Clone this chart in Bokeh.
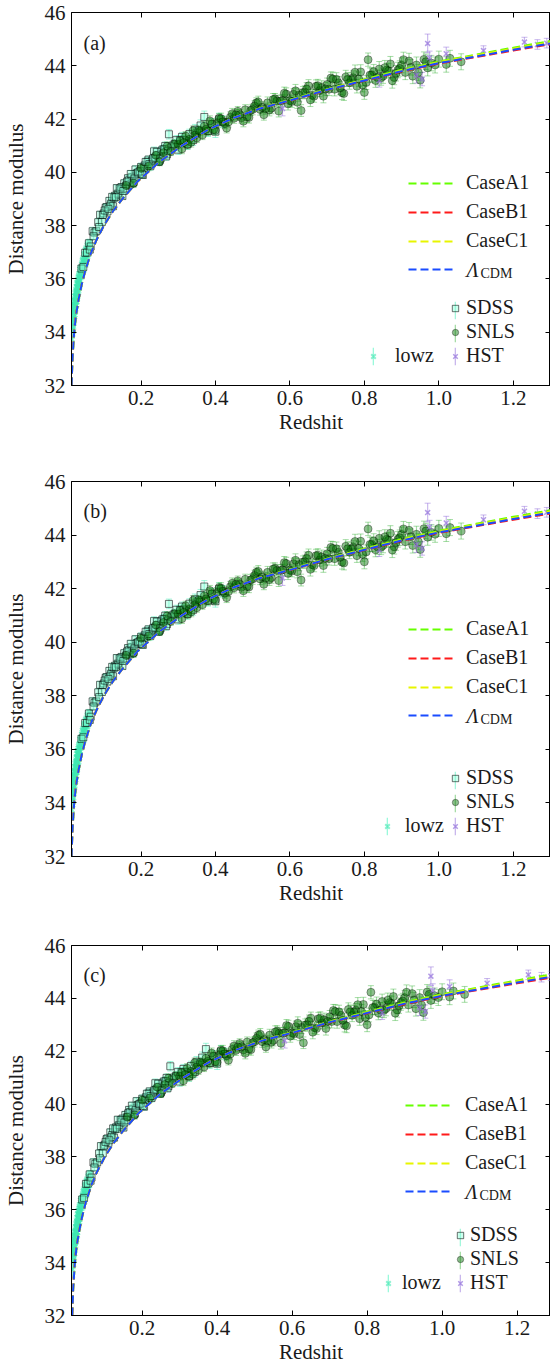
from bokeh.plotting import figure
from bokeh.layouts import column
from bokeh.models import (ColumnDataSource, Whisker, TeeHead, Legend, LegendItem,
                          FixedTicker, PrintfTickFormatter, LinearAxis, Label, Range1d)
from bokeh.embed import file_html
from bokeh.resources import INLINE

FONT = "'Liberation Serif', serif"
FS = "20px"
FS_AX = "21px"
TXT = "#1a1a1a"

# ---------------- data ----------------
x_ticks = [0.2, 0.4, 0.6, 0.8, 1.0, 1.2]
y_ticks = [32, 34, 36, 38, 40, 42, 44, 46]

z_model = [0.0135, 0.016, 0.02, 0.025, 0.032, 0.04, 0.05, 0.065, 0.08, 0.1, 0.125, 0.15,
           0.19, 0.25, 0.31, 0.38, 0.45, 0.52, 0.6, 0.7, 0.8, 0.9, 1.0, 1.1, 1.2, 1.3]
mu_lcdm = [32.0, 33.0, 33.9, 34.6, 35.2, 35.75, 36.3, 36.95, 37.45, 38.0, 38.55, 39.0,
           39.65, 40.4, 41.0, 41.6, 42.05, 42.4, 42.7, 43.1, 43.45, 43.8, 44.1, 44.35, 44.6, 44.84]
mu_case_a1 = [32.0, 33.0, 33.9, 34.6, 35.2, 35.75, 36.3, 36.95, 37.45, 38.0, 38.55, 39.0,
              39.65, 40.4, 41.0, 41.6, 42.05, 42.41, 42.72, 43.12, 43.49, 43.85, 44.16, 44.42, 44.68, 44.93]
mu_case_b1 = [32.0, 33.1, 34.0, 34.65, 35.2, 35.75, 36.3, 36.95, 37.45, 38.0, 38.55, 39.0,
              39.65, 40.4, 41.0, 41.6, 42.05, 42.4, 42.69, 43.09, 43.44, 43.78, 44.08, 44.33, 44.57, 44.81]
mu_case_c1 = [32.0, 33.0, 33.9, 34.6, 35.2, 35.75, 36.3, 36.95, 37.45, 38.0, 38.55, 39.0,
              39.65, 40.4, 41.0, 41.6, 42.05, 42.41, 42.71, 43.11, 43.47, 43.82, 44.13, 44.39, 44.64, 44.88]

z_lowz = [0.0135, 0.014, 0.015, 0.0155, 0.016, 0.017, 0.018, 0.019, 0.020, 0.021, 0.022, 0.023,
          0.024, 0.025, 0.026, 0.027, 0.028, 0.029, 0.030, 0.031, 0.032, 0.033, 0.034, 0.035,
          0.036, 0.038, 0.039, 0.040, 0.042, 0.043, 0.045, 0.047, 0.049, 0.050, 0.052, 0.054,
          0.056, 0.058, 0.060, 0.062,
          0.0145, 0.0165, 0.0175, 0.0185, 0.0195, 0.0205, 0.0215, 0.0225, 0.0235, 0.0245,
          0.0255, 0.0265, 0.0275, 0.0285, 0.0295, 0.0305, 0.0315, 0.0325, 0.0335, 0.0345,
          0.037, 0.041, 0.044, 0.046, 0.048, 0.051, 0.053, 0.055, 0.057, 0.059]
mu_lowz = [33.75, 34.20, 34.05, 34.45, 34.30, 34.55, 34.50, 34.85, 34.75, 35.00, 34.95, 35.20,
           35.15, 35.35, 35.30, 35.55, 35.45, 35.70, 35.65, 35.85, 35.80, 35.95, 36.05, 35.95,
           36.20, 36.15, 36.35, 36.30, 36.55, 36.45, 36.65, 36.60, 36.85, 36.75, 36.95, 37.05,
           36.95, 37.20, 37.15, 37.35,
           34.35, 34.10, 34.75, 34.35, 35.05, 34.60, 35.15, 34.80, 35.35, 35.00,
           35.50, 35.15, 35.70, 35.35, 35.85, 35.50, 35.95, 35.65, 36.10, 35.80,
           36.35, 36.15, 36.70, 36.40, 36.90, 36.60, 37.10, 36.85, 37.25, 37.00]
err_lowz = [0.30, 0.25, 0.28, 0.22, 0.26, 0.20, 0.24, 0.18, 0.22, 0.20, 0.17, 0.21, 0.19, 0.16,
            0.20, 0.18, 0.15, 0.19, 0.17, 0.16, 0.18, 0.15, 0.17, 0.16, 0.15, 0.18, 0.14, 0.16,
            0.15, 0.17, 0.14, 0.16, 0.15, 0.14, 0.16, 0.15, 0.14, 0.16, 0.15, 0.14,
            0.26, 0.24, 0.22, 0.23, 0.21, 0.22, 0.20, 0.21, 0.19, 0.20,
            0.18, 0.19, 0.18, 0.17, 0.18, 0.17, 0.16, 0.17, 0.16, 0.17,
            0.16, 0.15, 0.16, 0.15, 0.14, 0.15, 0.14, 0.15, 0.14, 0.15]

z_sdss = [0.040, 0.045, 0.050, 0.055, 0.060, 0.065, 0.070, 0.075, 0.080, 0.085, 0.090, 0.095,
          0.100, 0.105, 0.110, 0.115, 0.120, 0.125, 0.130, 0.135, 0.140, 0.145, 0.150, 0.155,
          0.160, 0.165, 0.170, 0.175, 0.180, 0.185, 0.190, 0.195, 0.200, 0.205, 0.210, 0.215,
          0.220, 0.225, 0.230, 0.235, 0.240, 0.245, 0.250, 0.255, 0.260, 0.265, 0.270, 0.275,
          0.280, 0.290, 0.300, 0.310, 0.320, 0.330, 0.340, 0.350, 0.360, 0.370, 0.380, 0.390,
          0.400, 0.410, 0.420,
          0.0625, 0.0725, 0.0875, 0.0975, 0.1075, 0.1175, 0.1275, 0.1375, 0.1475, 0.1575,
          0.1675, 0.1775, 0.1875, 0.1975, 0.2075, 0.2175, 0.2275, 0.2375, 0.2475, 0.2575,
          0.2675, 0.2850, 0.3050, 0.3250, 0.3450,
          0.1025, 0.1125, 0.1225, 0.1325, 0.1425, 0.1525, 0.1625, 0.1725, 0.1825, 0.1925,
          0.2025, 0.2125, 0.2225, 0.2325, 0.2425, 0.2525, 0.2625, 0.2725, 0.2950, 0.3150]
mu_sdss = [36.39, 36.45, 36.98, 36.99, 37.34, 37.22, 37.79, 37.74, 37.79, 38.13, 38.41, 38.14,
           38.46, 38.67, 38.53, 38.93, 38.83, 38.73, 39.12, 39.41, 39.15, 39.33, 39.11, 39.59,
           39.51, 39.78, 39.55, 39.82, 39.64, 40.11, 39.97, 39.93, 40.20, 39.90, 40.26, 40.22,
           40.48, 40.23, 40.44, 40.79, 40.44, 40.64, 40.45, 40.79, 40.69, 40.99, 40.68, 41.43,
           40.93, 41.06, 40.85, 41.33, 41.16, 41.44, 41.21, 41.49, 41.76, 42.08, 41.55, 41.81,
           41.53, 41.99, 41.90,
           37.10, 37.60, 37.95, 38.40, 38.70, 38.75, 39.05, 39.20, 39.45, 39.40,
           39.70, 39.60, 39.95, 40.05, 40.15, 40.40, 40.30, 40.55, 40.40, 40.85,
           40.60, 41.00, 41.20, 41.05, 41.60,
           38.57, 38.63, 39.08, 39.07, 39.39, 39.30, 39.65, 39.94, 39.77, 40.00,
           39.93, 40.39, 40.31, 40.52, 40.77, 40.52, 40.87, 40.81, 41.21, 41.22]
err_sdss = [0.16, 0.14, 0.15, 0.13, 0.14, 0.12, 0.15, 0.13, 0.12, 0.14, 0.13, 0.12, 0.13, 0.14,
            0.12, 0.13, 0.12, 0.14, 0.13, 0.12, 0.13, 0.14, 0.12, 0.13, 0.14, 0.12, 0.13, 0.15,
            0.13, 0.14, 0.12, 0.13, 0.15, 0.13, 0.14, 0.16, 0.13, 0.15, 0.14, 0.16, 0.15, 0.14,
            0.16, 0.15, 0.17, 0.15, 0.16, 0.18, 0.17, 0.16, 0.18, 0.17, 0.19, 0.18, 0.20, 0.19,
            0.21, 0.22, 0.20, 0.21, 0.22, 0.23, 0.22,
            0.13, 0.12, 0.14, 0.13, 0.12, 0.13, 0.14, 0.12, 0.13, 0.14,
            0.13, 0.15, 0.14, 0.13, 0.15, 0.14, 0.16, 0.15, 0.14, 0.16,
            0.15, 0.17, 0.18, 0.19, 0.20,
            0.13, 0.12, 0.13, 0.14, 0.13, 0.12, 0.14, 0.13, 0.15, 0.14,
            0.13, 0.15, 0.14, 0.16, 0.15, 0.14, 0.16, 0.15, 0.17, 0.18]

z_snls = [0.16, 0.18, 0.20, 0.22, 0.24, 0.25, 0.26, 0.27, 0.28, 0.29, 0.30, 0.31, 0.32, 0.33,
          0.34, 0.35, 0.36, 0.37, 0.38, 0.39, 0.40, 0.41, 0.42, 0.43, 0.44, 0.45, 0.46, 0.47,
          0.48, 0.49, 0.50, 0.51, 0.52, 0.53, 0.54, 0.55, 0.56, 0.57, 0.58, 0.59, 0.60, 0.61,
          0.62, 0.63, 0.64, 0.65, 0.66, 0.67, 0.68, 0.69, 0.70, 0.71, 0.72, 0.73, 0.74, 0.75,
          0.76, 0.77, 0.78, 0.79, 0.80, 0.81, 0.82, 0.83, 0.84, 0.85, 0.86, 0.87, 0.88, 0.89,
          0.90, 0.91, 0.92, 0.93, 0.94, 0.95, 0.96, 0.97, 0.98, 1.00, 1.02, 1.06,
          0.305, 0.325, 0.345, 0.365, 0.385, 0.405, 0.425, 0.445, 0.465, 0.485, 0.505, 0.525,
          0.545, 0.565, 0.585, 0.605, 0.625, 0.645, 0.665, 0.685, 0.705, 0.725, 0.745, 0.765,
          0.785, 0.805, 0.825, 0.845, 0.865, 0.885, 0.905, 0.925, 0.945, 0.965, 0.99, 1.03,
          0.315, 0.335, 0.355, 0.375, 0.395, 0.415, 0.435, 0.455, 0.475, 0.495, 0.515, 0.535,
          0.555, 0.575, 0.595, 0.615, 0.635, 0.655, 0.675, 0.695, 0.715, 0.735, 0.755, 0.775,
          0.795, 0.815, 0.835, 0.855, 0.875, 0.895]
mu_snls = [39.51, 39.59, 40.15, 40.23, 40.64, 40.40, 40.74, 40.98, 40.78, 41.06, 41.05, 40.88,
           41.36, 41.24, 41.56, 41.29, 41.56, 41.73, 41.55, 41.81, 41.58, 42.04, 41.90, 41.66,
           42.07, 42.03, 42.29, 42.05, 42.35, 42.06, 42.36, 42.61, 42.36, 42.16, 42.61, 42.41,
           42.76, 42.30, 42.70, 42.94, 42.69, 42.93, 42.63, 42.32, 43.01, 43.25, 42.89, 43.23,
           43.07, 42.86, 43.30, 43.54, 43.12, 43.36, 42.99, 43.58, 43.36, 43.55, 43.23, 43.77,
           43.00, 44.23, 43.66, 43.45, 43.88, 43.61, 43.84, 44.07, 43.56, 43.84, 44.02, 43.75,
           44.18, 43.61, 44.03, 43.46, 44.24, 43.92, 44.10, 44.25, 44.05, 44.15,
           41.19, 41.05, 41.40, 41.40, 41.93, 41.86, 41.83, 42.20, 42.17, 42.08, 42.49, 42.44,
           42.34, 42.68, 42.97, 42.66, 42.90, 43.13, 42.86, 43.19, 43.12, 43.49, 42.96, 43.48,
           43.50, 43.37, 43.78, 43.55, 43.81, 43.72, 44.23, 43.94, 43.75, 44.15, 44.03, 44.28,
           41.12, 41.13, 41.58, 41.62, 41.60, 42.02, 41.89, 42.16, 41.92, 42.33, 42.64, 42.39,
           42.73, 42.68, 42.57, 43.06, 42.99, 42.72, 43.25, 43.13, 43.50, 43.17, 43.49, 43.76,
           43.28, 43.65, 43.56, 43.93, 43.44, 43.90]
err_snls = [0.15, 0.16, 0.15, 0.17, 0.16, 0.15, 0.17, 0.16, 0.15, 0.17, 0.16, 0.18, 0.17, 0.16,
            0.18, 0.17, 0.16, 0.18, 0.17, 0.19, 0.18, 0.17, 0.19, 0.18, 0.20, 0.19, 0.18, 0.20,
            0.19, 0.21, 0.20, 0.19, 0.21, 0.20, 0.22, 0.21, 0.20, 0.22, 0.21, 0.23, 0.22, 0.21,
            0.23, 0.22, 0.24, 0.23, 0.22, 0.24, 0.23, 0.25, 0.24, 0.23, 0.25, 0.24, 0.26, 0.25,
            0.24, 0.26, 0.25, 0.27, 0.26, 0.25, 0.27, 0.26, 0.28, 0.27, 0.26, 0.28, 0.27, 0.29,
            0.28, 0.27, 0.29, 0.28, 0.30, 0.29, 0.28, 0.30, 0.29, 0.30, 0.29, 0.30,
            0.16, 0.17, 0.18, 0.17, 0.19, 0.18, 0.19, 0.20, 0.19, 0.21, 0.20, 0.21,
            0.22, 0.21, 0.23, 0.22, 0.23, 0.24, 0.23, 0.25, 0.24, 0.25, 0.26, 0.25,
            0.27, 0.26, 0.27, 0.28, 0.27, 0.29, 0.28, 0.29, 0.30, 0.29, 0.30, 0.30,
            0.17, 0.18, 0.17, 0.19, 0.18, 0.20, 0.19, 0.20, 0.21, 0.20, 0.22, 0.21,
            0.23, 0.22, 0.23, 0.24, 0.23, 0.25, 0.24, 0.25, 0.26, 0.25, 0.26, 0.27,
            0.26, 0.27, 0.28, 0.27, 0.28, 0.29]

z_hst = [0.58, 0.84, 0.94, 0.955, 0.97, 0.975, 1.02, 1.12, 1.23, 1.265, 1.29]
mu_hst = [42.40, 43.45, 43.65, 43.50, 44.84, 44.30, 44.45, 44.57, 44.89, 44.80, 44.85]
err_hst = [0.28, 0.25, 0.30, 0.25, 0.35, 0.25, 0.25, 0.18, 0.18, 0.18, 0.18]

# ---------------- styles ----------------
C_LOWZ_M, C_LOWZ_E = "#3ee8b0", "#6ff7cc"
C_SDSS_F, C_SDSS_E = "#7fffd4", "#66f2c4"
C_SNLS_F, C_SNLS_E = "#006e00", "#3cb43c"
C_HST = "#9370db"
C_A1, C_B1, C_C1, C_L = "#66ff00", "#ff1a1a", "#e8f500", "#1a4cff"


def mk_src(z, mu, err):
    return ColumnDataSource(dict(z=z, mu=mu, h=[2 * e for e in err],
                                 lo=[m - e for m, e in zip(mu, err)],
                                 hi=[m + e for m, e in zip(mu, err)]))


def style_axis(ax, ticks, fmt):
    ax.ticker = FixedTicker(ticks=ticks, minor_ticks=[])
    ax.formatter = PrintfTickFormatter(format=fmt)
    ax.major_tick_in = 5
    ax.major_tick_out = 0
    ax.minor_tick_in = 0
    ax.minor_tick_out = 0
    ax.major_tick_line_color = "black"
    ax.axis_line_color = "black"
    ax.major_label_text_font = FONT
    ax.major_label_text_font_size = FS_AX
    ax.major_label_text_color = TXT
    ax.axis_label_text_font = FONT
    ax.axis_label_text_font_size = FS_AX
    ax.axis_label_text_font_style = "normal"
    ax.axis_label_text_color = TXT


def blank_axis(ticks):
    ax = LinearAxis(ticker=FixedTicker(ticks=ticks, minor_ticks=[]))
    ax.major_label_overrides = {t: "" for t in ticks}
    ax.major_tick_in = 5
    ax.major_tick_out = 0
    ax.minor_tick_in = 0
    ax.minor_tick_out = 0
    ax.major_label_text_font_size = "0px"
    ax.major_label_standoff = 0
    ax.axis_line_color = None
    ax.major_tick_line_color = "black"
    return ax


def legend(items, loc, gw, gh, spacing, standoff):
    return Legend(items=items, location=loc, orientation="vertical",
                  glyph_width=gw, glyph_height=gh, label_height=gh,
                  spacing=spacing, label_standoff=standoff, padding=0, margin=0,
                  background_fill_alpha=0, border_line_color=None,
                  label_text_font=FONT, label_text_font_size=FS, label_text_color=TXT)


def add_data(p, s, marker, size, fill, fill_alpha, line, line_alpha, line_width, ecol, ealpha, ew):
    bars = p.rect(x="z", y="mu", width=ew, height="h", width_units="screen",
                  fill_color=ecol, fill_alpha=ealpha, line_color=None, source=s)
    p.add_layout(Whisker(base="z", lower="lo", upper="hi", source=s, line_color=None,
                         upper_head=TeeHead(size=6, line_color=ecol, line_alpha=ealpha, line_width=1),
                         lower_head=TeeHead(size=6, line_color=ecol, line_alpha=ealpha, line_width=1)))
    pts = p.scatter("z", "mu", source=s, marker=marker, size=size, fill_color=fill,
                    fill_alpha=fill_alpha, line_color=line, line_alpha=line_alpha,
                    line_width=line_width)
    return bars, pts


def panel(cfg):
    top, bottom, left = cfg["top"], cfg["bottom"], cfg["left"]
    fh = cfg["height"] - top - bottom
    p = figure(width=550, height=cfg["height"], x_range=Range1d(*cfg["xr"]),
               y_range=Range1d(32, 46), output_backend="svg", toolbar_location=None,
               min_border_left=left, min_border_right=0, min_border_top=top,
               min_border_bottom=bottom)
    p.grid.visible = False
    p.outline_line_color = "black"
    p.outline_line_width = 1
    style_axis(p.xaxis[0], x_ticks, "%.1f")
    style_axis(p.yaxis[0], y_ticks, "%d")
    p.xaxis[0].axis_label = "Redshit"
    p.yaxis[0].axis_label = "Distance modulus"
    p.xaxis[0].major_label_standoff = 5
    p.xaxis[0].axis_label_standoff = 2
    p.yaxis[0].major_label_standoff = 6
    p.yaxis[0].axis_label_standoff = 14
    p.add_layout(blank_axis(x_ticks), "above")
    p.add_layout(blank_axis(y_ticks), "right")

    s_lowz = mk_src(z_lowz, mu_lowz, err_lowz)
    s_sdss = mk_src(z_sdss, mu_sdss, err_sdss)
    s_snls = mk_src(z_snls, mu_snls, err_snls)
    s_hst = mk_src(z_hst, mu_hst, err_hst)

    b_lowz, m_lowz = add_data(p, s_lowz, "x", 8, None, 0, C_LOWZ_M, 0.6, 2, C_LOWZ_E, 0.7, 2.5)
    b_sdss, m_sdss = add_data(p, s_sdss, "square", 7, C_SDSS_F, 0.4, "black", 0.55, 1, C_SDSS_E, 0.6, 1.2)
    b_snls, m_snls = add_data(p, s_snls, "circle", 8, C_SNLS_F, 0.45, "black", 0.35, 1, C_SNLS_E, 0.45, 1.2)
    b_hst, m_hst = add_data(p, s_hst, "x", 7, None, 0, C_HST, 0.7, 1.5, C_HST, 0.5, 1.2)

    sm = ColumnDataSource(dict(z=z_model, a1=mu_case_a1, b1=mu_case_b1, c1=mu_case_c1, l=mu_lcdm))
    dash = "8 4"
    ra = p.line("z", "a1", source=sm, line_color=C_A1, line_width=2, line_dash=dash)
    rb = p.line("z", "b1", source=sm, line_color=C_B1, line_width=2, line_dash=dash)
    rc = p.line("z", "c1", source=sm, line_color=C_C1, line_width=2, line_dash=dash)
    rl = p.line("z", "l", source=sm, line_color=C_L, line_width=2, line_dash=dash)

    RH = 22
    l_top = cfg["lines_y"] - RH / 2
    l_bot = l_top + 4 * RH + 3 * 6
    p.add_layout(legend([LegendItem(label="CaseA1", renderers=[ra]),
                         LegendItem(label="CaseB1", renderers=[rb]),
                         LegendItem(label="CaseC1", renderers=[rc]),
                         LegendItem(label=" ", renderers=[rl])],
                        (cfg["lines_x"], fh - l_bot), 47, RH, 6, cfg["lines_so"]))
    tx = cfg["lines_x"] + 47 + cfg["lines_so"]
    ty = fh - (cfg["lines_y"] + 3 * 28)
    p.add_layout(Label(x=tx, y=ty, x_units="screen", y_units="screen", text="Λ",
                       text_font=FONT, text_font_size=FS, text_font_style="italic",
                       text_color=TXT, text_baseline="middle", text_align="left"))
    p.add_layout(Label(x=tx + 14, y=ty - 4, x_units="screen", y_units="screen", text="CDM",
                       text_font=FONT, text_font_size="14px", text_color=TXT,
                       text_baseline="middle", text_align="left"))

    m_top = cfg["mk_y"] - RH / 2
    m_bot = m_top + 3 * RH + 2 * 1
    mx = cfg["mk_x"]
    p.add_layout(legend([LegendItem(label=" ", renderers=[b_sdss]),
                         LegendItem(label=" ", renderers=[b_snls]),
                         LegendItem(label=" ", renderers=[b_hst])],
                        (mx - 1, fh - m_bot), 2, RH, 1, 0))
    p.add_layout(legend([LegendItem(label="SDSS", renderers=[m_sdss]),
                         LegendItem(label="SNLS", renderers=[m_snls]),
                         LegendItem(label="HST", renderers=[m_hst])],
                        (mx - 8, fh - m_bot), 16, RH, 1, cfg["mk_so"]))
    lz_bot = cfg["mk_y"] + 2 * 23 + RH / 2
    lx = cfg["lowz_x"]
    p.add_layout(legend([LegendItem(label=" ", renderers=[b_lowz])],
                        (lx - 1, fh - lz_bot), 2, RH, 0, 0))
    p.add_layout(legend([LegendItem(label="lowz", renderers=[m_lowz])],
                        (lx - 8, fh - lz_bot), 16, RH, 0, cfg["lowz_so"]))

    p.add_layout(Label(x=12, y=fh - cfg["tag_y"], x_units="screen", y_units="screen",
                       text=cfg["tag"], text_font=FONT, text_font_size=FS, text_color=TXT,
                       text_baseline="middle", text_align="left"))
    return p


cfg_a = dict(tag="(a)", tag_y=30, height=469, top=12, bottom=84, left=68, xr=(0.0133, 1.30),
             lines_x=337, lines_y=173, lines_so=11, mk_x=384, mk_y=298, mk_so=3,
             lowz_x=302, lowz_so=14)
cfg_b = dict(tag="(b)", tag_y=29, height=464, top=12, bottom=77, left=68, xr=(0.0133, 1.30),
             lines_x=337, lines_y=150, lines_so=11, mk_x=384, mk_y=299, mk_so=3,
             lowz_x=316, lowz_so=10)
cfg_c = dict(tag="(c)", tag_y=29, height=438, top=12, bottom=56, left=71, xr=(0.0115, 1.289),
             lines_x=334, lines_y=162, lines_so=13, mk_x=389, mk_y=292, mk_so=2,
             lowz_x=317, lowz_so=6)

layout = column(panel(cfg_a), panel(cfg_b), panel(cfg_c), spacing=0)
open("out.html", "w").write(file_html(layout, INLINE))
